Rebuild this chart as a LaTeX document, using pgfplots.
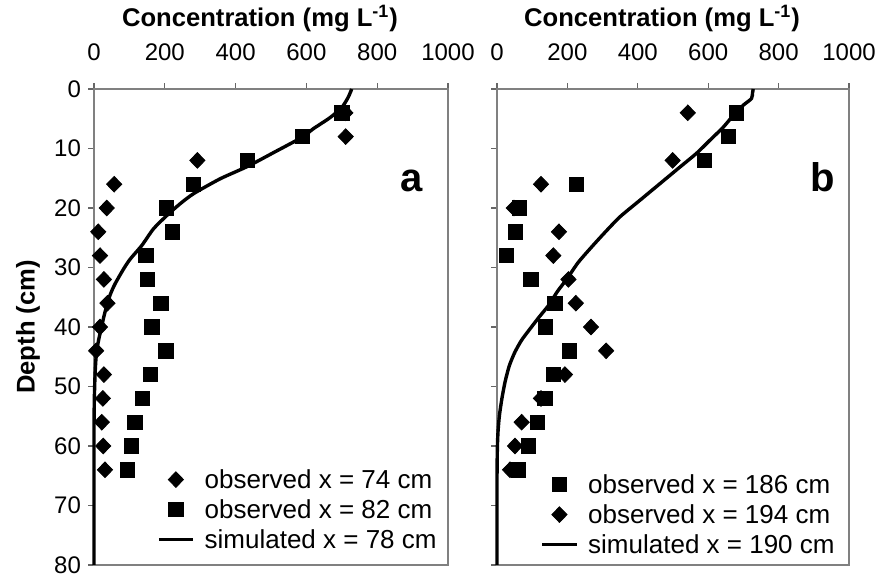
\documentclass[border=0pt]{standalone}
\usepackage{fontspec}
\setmainfont{Liberation Sans}
\usepackage{pgfplots}
\pgfplotsset{compat=1.18}

\pgfplotsset{
  depthpanel/.style={
    scale only axis, height=238pt,
    xmin=0, xmax=1000, ymin=0, ymax=80, y dir=reverse,
    xtick={0,200,...,1000}, ytick={0,10,...,80},
    xtick pos=right, xticklabel pos=right, ytick pos=left,
    tick align=outside, major tick length=3pt,
    axis line style={black!50, line width=1pt},
    every tick/.style={black!60, line width=0.6pt},
    tick label style={font=\fontsize{12}{14}\selectfont},
    xticklabel style={yshift=7.5pt},
    /pgf/number format/assume math mode=true,
    /pgf/number format/1000 sep={},
    xlabel={\textbf{Concentration (mg L\textsuperscript{-1})}},
    xlabel style={font=\fontsize{12.8}{15}\selectfont, at={(axis description cs:0.5,1)},
      anchor=base, yshift=31.5pt, xshift=-5.5pt},
    clip=false,
    legend cell align=left,
    legend style={draw=none, fill=none, inner sep=0pt, font=\fontsize{13}{15}\selectfont,
      nodes={text height=10pt, text depth=1pt, inner sep=2pt},
      /tikz/every odd column/.append style={column sep=3pt}},
  },
  diam/.style={only marks, black, mark=diamond*, mark size=3.9pt, mark options={xscale=1.3, fill=black}},
  sqr/.style={only marks, black, mark=square*, mark size=3.6pt, mark options={fill=black}},
  sim/.style={black, line width=1.7pt, smooth, tension=0.4, no marks},
}
\tikzset{panellabel/.style={font=\fontsize{20}{20}\selectfont\bfseries, anchor=base}}

\begin{document}
\begin{tikzpicture}
\useasboundingbox (0,0) rectangle (439pt,288pt);

% panel a
\begin{axis}[depthpanel, width=177pt, at={(47pt,5.5pt)}, anchor=south west,
  ylabel={\textbf{Depth (cm)}},
  ylabel style={font=\fontsize{12.8}{15}\selectfont, at={(axis description cs:0,0.5)}, anchor=center, yshift=33pt},
  legend style={at={(axis description cs:1,0)}, anchor=south east, xshift=-3.5pt, yshift=5pt}]
\addplot[diam] coordinates {
  (710,4) (711,8) (292,12) (57,16) (36,20) (12,24) (17,28) (28,32)
  (38,36) (17,40) (6,44) (28,48) (25,52) (22,56) (26,60) (31,64)};
\addlegendentry{observed x = 74 cm}
\addplot[sqr] coordinates {
  (700,4) (588,8) (434,12) (281,16) (205,20) (222,24) (147,28) (151,32)
  (189,36) (163,40) (203,44) (160,48) (137,52) (116,56) (106,60) (95,64)};
\addlegendentry{observed x = 82 cm}
\addplot[sim] coordinates {
  (728,0) (718,1.4) (700,3.1) (667,4.8) (619,6.7) (588,8.1) (510,10.6)
  (434,13) (356,15.1) (281,17.6) (243,19.3) (205,21.3) (168,23.5)
  (135,26.3) (102,28.6) (83,30.3) (59,32.8) (45,34.7) (31,37.5) (22,39.8)
  (12,42.5) (6,45) (3,48) (1,52) (0,58) (0,80)};
\addlegendentry{simulated x = 78 cm}
\node[panellabel] at (axis cs:897,17.3) {a};
\end{axis}

% panel b
\begin{axis}[depthpanel, width=176pt, at={(248.5pt,5.5pt)}, anchor=south west,
  yticklabels={},
  legend style={at={(axis description cs:1,0)}, anchor=south east, xshift=-5pt, yshift=2.5pt}]
\addplot[sqr] coordinates {
  (680,4) (658,8) (590,12) (226,16) (63,20) (53,24) (27,28) (96,32)
  (165,36) (138,40) (205,44) (160,48) (136,52) (115,56) (89,60) (61,64)};
\addlegendentry{observed x = 186 cm}
\addplot[diam] coordinates {
  (542,4) (499,12) (125,16) (48,20) (176,24) (160,28) (203,32) (224,36)
  (267,40) (310,44) (193,48) (125,52) (70,56) (51,60) (37,64)};
\addlegendentry{observed x = 194 cm}
\addplot[sim] coordinates {
  (728,0) (726,0.6) (723,1.6) (700,2.7) (676,4.1) (643,6.4) (605,8.6)
  (567,10.8) (520,13.1) (463,15.9) (406,18.7) (349,21.5) (305,24.2)
  (265,26.8) (230,29.2) (200,31.8) (172,34) (146,36.4) (120,38.3)
  (94,40.3) (70,42.2) (51,44.2) (35,46.5) (23,49.2) (14,52) (7,54.8)
  (3,57.5) (1,60.4) (0,66) (0,80)};
\addlegendentry{simulated x = 190 cm}
\node[panellabel] at (axis cs:925,17.3) {b};
\end{axis}
\end{tikzpicture}
\end{document}
